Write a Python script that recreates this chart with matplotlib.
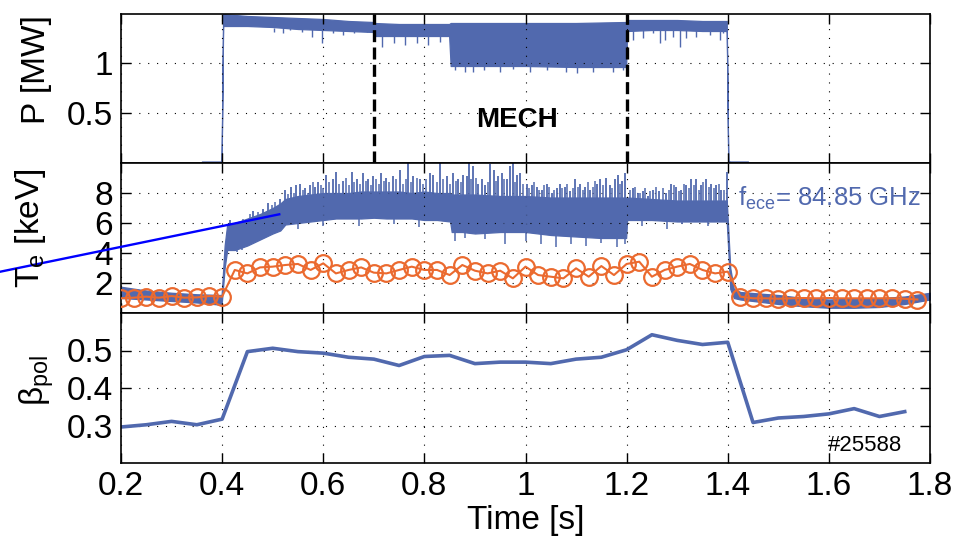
import numpy as np
import matplotlib
matplotlib.use('Agg')
import matplotlib.pyplot as plt

plt.rcParams['font.family'] = ['Liberation Sans', 'DejaVu Sans']
plt.rcParams['mathtext.fontset'] = 'custom'
plt.rcParams['mathtext.rm'] = 'Liberation Sans'
plt.rcParams['mathtext.it'] = 'Liberation Sans:italic'
plt.rcParams['mathtext.bf'] = 'Liberation Sans:bold'
plt.rcParams['mathtext.sf'] = 'Liberation Sans'

BLUE = '#5169ae'
ORANGE = '#eb6a2f'

# ---------------- heating power P [MW] (band envelope + dips) ----------------
p_t  = [0.36, 0.399, 0.402, 0.45, 0.5, 0.55, 0.6, 0.65, 0.699, 0.701, 0.75, 0.8, 0.849,
        0.852, 0.9, 1.0, 1.1, 1.199, 1.201, 1.25, 1.3, 1.35, 1.398, 1.401, 1.405, 1.44]
p_lo = [0.005, 0.005, 1.37, 1.37, 1.36, 1.34, 1.33, 1.32, 1.31, 1.27, 1.27, 1.27, 1.27,
        0.97, 0.97, 0.97, 0.96, 0.96, 1.32, 1.33, 1.33, 1.32, 1.32, 0.0, 0.005, 0.005]
p_hi = [0.015, 0.015, 1.49, 1.47, 1.46, 1.45, 1.44, 1.42, 1.41, 1.40, 1.39, 1.39, 1.39,
        1.40, 1.40, 1.40, 1.40, 1.41, 1.43, 1.43, 1.43, 1.42, 1.42, 0.02, 0.015, 0.015]
p_dip_t = [0.502, 0.521, 0.534, 0.557, 0.578, 0.597, 0.62, 0.64, 0.66, 0.686, 0.716, 0.739,
           0.762, 0.785, 0.808, 0.831, 0.861, 0.88, 0.897, 0.917, 0.95, 0.976, 1.009, 1.042,
           1.081, 1.101, 1.134, 1.173, 1.193, 1.213, 1.233, 1.252, 1.266, 1.276, 1.292,
           1.305, 1.318, 1.338, 1.365, 1.384, 1.391]
p_dip_v = [1.31, 1.30, 1.33, 1.31, 1.26, 1.20, 1.30, 1.28, 1.30, 1.31, 1.16, 1.20,
           1.18, 1.20, 1.18, 1.21, 0.93, 0.91, 0.91, 0.93, 0.91, 0.94, 0.91, 0.93,
           0.91, 0.90, 0.91, 0.91, 0.93, 1.23, 1.25, 1.30, 1.20, 1.23, 1.26,
           1.16, 1.25, 1.26, 1.28, 1.23, 1.30]

# ---------------- ECE Te [keV] (band envelope + spikes + dips) ----------------
te_t  = [0.2, 0.25, 0.3, 0.35, 0.399, 0.405, 0.41, 0.425, 0.45, 0.475, 0.5, 0.515, 0.525,
         0.55, 0.575, 0.6, 0.625, 0.65, 0.675, 0.7, 0.725, 0.75, 0.775, 0.8, 0.825, 0.851,
         0.854, 0.875, 0.9, 0.95, 1.0, 1.05, 1.1, 1.15, 1.199, 1.201, 1.25, 1.3, 1.35,
         1.398, 1.405, 1.412, 1.425, 1.5, 1.55, 1.6, 1.65, 1.7, 1.75, 1.8]
te_lo = [1.0, 0.9, 0.8, 0.7, 0.55, 3.0, 4.2, 4.2, 4.5, 4.9, 5.3, 5.5, 5.9,
         6.0, 6.1, 6.2, 6.3, 6.3, 6.3, 6.35, 6.3, 6.3, 6.3, 6.2, 6.2, 6.1,
         5.4, 5.4, 5.3, 5.4, 5.4, 5.2, 5.1, 5.0, 5.0, 6.2, 6.2, 6.1, 6.1,
         6.1, 1.6, 1.0, 0.9, 0.6, 0.45, 0.35, 0.35, 0.4, 0.6, 0.9]
te_hi = [1.75, 1.5, 1.35, 1.25, 1.2, 4.5, 5.9, 6.0, 6.3, 6.6, 7.0, 7.3, 7.6,
         7.8, 7.9, 8.0, 8.0, 8.0, 8.1, 8.1, 8.1, 8.1, 8.0, 8.1, 8.0, 8.0,
         7.9, 7.9, 7.9, 7.8, 7.8, 7.7, 7.7, 7.7, 7.7, 7.7, 7.6, 7.5, 7.5,
         7.5, 3.0, 1.6, 1.4, 1.2, 1.0, 0.9, 0.95, 1.0, 1.1, 1.35]
te_spk_t = [0.415, 0.422, 0.435, 0.462, 0.481, 0.491, 0.514, 0.524, 0.537, 0.547, 0.554,
            0.564, 0.574, 0.583, 0.59, 0.606, 0.62, 0.626, 0.639, 0.656, 0.666, 0.679,
            0.689, 0.699, 0.715, 0.725, 0.738, 0.751, 0.768, 0.778, 0.791, 0.811, 0.818,
            0.831, 0.844, 0.857, 0.867, 0.877, 0.884, 0.889, 0.897, 0.907, 0.914, 0.92,
            0.93, 0.937, 0.946, 0.953, 0.963, 0.969, 0.975, 0.983, 0.989, 1.002, 1.012,
            1.022, 1.032, 1.042, 1.052, 1.062, 1.068, 1.078, 1.088, 1.098, 1.108, 1.118,
            1.127, 1.141, 1.147, 1.16, 1.167, 1.177, 1.183, 1.19, 1.196, 1.213, 1.222,
            1.232, 1.242, 1.252, 1.265, 1.278, 1.288, 1.298, 1.308, 1.318, 1.328, 1.338,
            1.347, 1.357, 1.367, 1.377, 1.387, 1.399]
te_spk_v = [6.2, 6.0, 6.1, 6.8, 6.9, 7.3, 7.6, 8.2, 8.4, 8.5, 8.6,
            8.3, 8.5, 8.4, 8.75, 9.2, 8.9, 9.4, 8.8, 9.4, 8.9, 9.3,
            8.9, 9.1, 9.3, 9.0, 9.1, 9.5, 10.0, 9.1, 8.9, 9.3, 9.2,
            10.0, 9.1, 9.3, 8.9, 9.2, 9.1, 10.0, 9.8, 8.6, 8.9, 8.5,
            9.9, 9.5, 9.1, 9.3, 8.9, 9.8, 10.0, 9.2, 9.3, 8.6, 8.5,
            8.4, 8.2, 8.6, 8.0, 8.3, 8.6, 8.4, 8.1, 8.9, 8.6, 8.4,
            8.2, 8.6, 8.9, 9.0, 8.5, 8.9, 9.2, 8.8, 9.3, 8.3, 8.0,
            8.1, 7.8, 8.2, 8.1, 8.0, 8.6, 8.4, 8.2, 8.5, 8.9, 8.9,
            8.5, 8.9, 8.6, 8.5, 8.2, 9.4]
# smaller spikes between the big ones
te_spk2_t = [0.428, 0.442, 0.455, 0.47, 0.498, 0.505, 0.53, 0.542, 0.559, 0.569, 0.579,
             0.595, 0.6, 0.612, 0.632, 0.645, 0.651, 0.661, 0.672, 0.684, 0.694, 0.705,
             0.71, 0.72, 0.731, 0.744, 0.757, 0.763, 0.773, 0.785, 0.797, 0.803, 0.824,
             0.837, 0.85, 0.862, 0.872, 0.893, 0.902, 0.925, 0.942, 0.958, 0.979, 0.995,
             1.007, 1.017, 1.027, 1.037, 1.047, 1.057, 1.073, 1.083, 1.093, 1.103, 1.113,
             1.123, 1.133, 1.137, 1.153, 1.172, 1.186, 1.207, 1.217, 1.227, 1.237, 1.247,
             1.258, 1.271, 1.283, 1.293, 1.303, 1.313, 1.323, 1.333, 1.343, 1.352, 1.362,
             1.372, 1.382, 1.392]
te_spk2_v = [5.9, 6.3, 6.6, 6.7, 7.2, 7.4, 7.9, 8.0, 8.2, 8.0, 8.7,
             8.5, 8.3, 8.7, 8.6, 9.0, 8.5, 8.7, 8.6, 8.8, 8.5, 8.9,
             8.6, 8.8, 8.7, 8.9, 8.6, 8.9, 8.7, 9.0, 8.6, 8.9, 8.7,
             8.9, 8.6, 8.8, 8.7, 8.9, 9.0, 8.7, 8.8, 8.9, 8.7, 8.6,
             8.3, 8.7, 8.2, 8.5, 8.4, 8.2, 8.3, 8.6, 8.3, 8.4, 8.2,
             8.7, 8.4, 8.8, 8.5, 8.3, 8.6, 8.2, 8.4, 8.0, 8.3, 8.1,
             8.4, 8.3, 8.2, 8.5, 8.1, 8.6, 8.3, 8.5, 8.2, 8.7, 8.4,
             8.3, 8.6, 8.2]
te_dip_t = [0.43, 0.44, 0.55, 0.6, 0.67, 0.74, 0.79, 0.86, 0.88, 0.92, 0.96, 1.0, 1.03,
            1.06, 1.09, 1.12, 1.15, 1.18, 1.196, 1.23, 1.28, 1.31, 1.36]
te_dip_v = [4.1, 4.2, 5.6, 5.8, 5.8, 5.9, 5.7, 4.8, 5.0, 4.9, 4.6, 4.8, 4.6,
            4.4, 4.6, 4.5, 4.7, 4.4, 4.6, 5.8, 5.6, 5.9, 5.8]

# ---------------- Thomson-like Te points (orange circles) ----------------
ts_t = [0.2, 0.225, 0.25, 0.275, 0.3, 0.325, 0.35, 0.375, 0.4, 0.425, 0.45, 0.475,
        0.5, 0.525, 0.55, 0.575, 0.6, 0.625, 0.65, 0.675, 0.7, 0.725, 0.75, 0.775,
        0.8, 0.825, 0.85, 0.875, 0.9, 0.925, 0.95, 0.975, 1.0, 1.025, 1.05, 1.075,
        1.1, 1.125, 1.15, 1.175, 1.2, 1.225, 1.25, 1.275, 1.3, 1.325, 1.35, 1.375,
        1.4, 1.425, 1.45, 1.475, 1.5, 1.525, 1.55, 1.575, 1.6, 1.625, 1.65, 1.675,
        1.7, 1.725, 1.75, 1.775]
ts_te = [0.98, 1.02, 1.09, 1.02, 1.13, 1.02, 1.04, 1.13, 1.09, 2.87, 2.64, 3.04,
         3.09, 3.20, 3.27, 2.87, 3.31, 2.64, 2.87, 3.04, 2.69, 2.64, 2.87, 3.09,
         2.87, 2.87, 2.53, 3.20, 2.82, 2.64, 2.82, 2.31, 3.09, 2.53, 2.42, 2.31,
         2.98, 2.42, 3.13, 2.53, 3.27, 3.42, 2.42, 2.87, 3.09, 3.27, 2.87, 2.64,
         2.76, 1.09, 0.98, 0.98, 0.95, 0.98, 1.00, 0.98, 1.00, 0.98, 0.98, 0.98,
         0.98, 0.98, 0.95, 0.90]

# ---------------- beta_pol ----------------
beta_t = [0.2, 0.25, 0.3, 0.35, 0.4, 0.45, 0.5, 0.55, 0.6, 0.65, 0.7, 0.75, 0.8, 0.85,
          0.9, 0.95, 1.0, 1.05, 1.1, 1.15, 1.2, 1.25, 1.3, 1.35, 1.4, 1.45, 1.5, 1.55,
          1.6, 1.65, 1.7, 1.75]
beta_v = [0.296, 0.302, 0.311, 0.302, 0.317, 0.497, 0.506, 0.497, 0.493, 0.482, 0.477,
          0.460, 0.484, 0.487, 0.465, 0.469, 0.469, 0.465, 0.477, 0.482, 0.502, 0.542,
          0.527, 0.516, 0.522, 0.308, 0.320, 0.324, 0.331, 0.345, 0.324, 0.337]

# annotation line (blue) and MECH window
arrow_t = [-0.0393, 0.513]
arrow_te = [2.75, 6.58]
mech_t = [0.7, 1.2]

xticks = [0.2, 0.4, 0.6, 0.8, 1.0, 1.2, 1.4, 1.6, 1.8]
xticklabels = ['0.2', '0.4', '0.6', '0.8', '1', '1.2', '1.4', '1.6', '1.8']

W, H = 961, 546
fig = plt.figure(figsize=(W / 100, H / 100), dpi=100)
L = 121 / W
Wd = (930 - 121) / W
ax1 = fig.add_axes([L, 1 - 163 / H, Wd, 149 / H])
ax2 = fig.add_axes([L, 1 - 313 / H, Wd, 150 / H])
ax3 = fig.add_axes([L, 1 - 463 / H, Wd, 150 / H])

FS = 24
for ax in (ax1, ax2, ax3):
    ax.set_xlim(0.2, 1.8)
    ax.set_xticks(xticks)
    ax.grid(True, color='black', linestyle=(0, (1, 7)), linewidth=0.8)
    ax.tick_params(direction='in', length=7, width=1.0, top=True, right=True,
                   labelsize=FS, pad=6)
    for s in ax.spines.values():
        s.set_linewidth(1.2)
ax1.set_xticklabels([])
ax2.set_xticklabels([])
ax3.set_xticklabels(xticklabels)

# --- panel 1: P
ax1.fill_between(p_t, p_lo, p_hi, color=BLUE, linewidth=0.9, edgecolor=BLUE)
ax1.vlines(p_dip_t, [1.35] * len(p_dip_t), p_dip_v, color=BLUE, linewidth=1.0)
ax1.set_ylim(0, 1.49)
ax1.set_yticks([0.5, 1.0])
ax1.set_yticklabels(['0.5', '1'])
for tm in mech_t:
    ax1.axvline(tm, color='black', linewidth=2.4, linestyle=(0, (3.6, 1.6)), zorder=5)
ax1.text(0.983, 0.43, 'MECH', fontsize=20, fontweight='bold', ha='center', va='center')

# --- panel 2: Te
te_mid = (np.array(te_lo) + np.array(te_hi)) / 2
base1 = np.interp(te_spk_t, te_t, te_mid)
base2 = np.interp(te_spk2_t, te_t, te_mid)
base3 = np.interp(te_dip_t, te_t, te_mid)
ax2.fill_between(te_t, te_lo, te_hi, color=BLUE, linewidth=0.9, edgecolor=BLUE)
ax2.vlines(te_spk_t, base1, te_spk_v, color=BLUE, linewidth=1.3)
ax2.vlines(te_spk2_t, base2, te_spk2_v, color=BLUE, linewidth=1.1)
ax2.vlines(te_dip_t, base3, te_dip_v, color=BLUE, linewidth=1.1)
ax2.plot(ts_t, ts_te, '-o', color=ORANGE, mfc='none', mec=ORANGE, ms=12, mew=1.6,
         linewidth=1.5, zorder=4)
ax2.plot(arrow_t, arrow_te, color='#0000ff', linewidth=1.7, clip_on=False, zorder=6)
ax2.set_ylim(0, 10)
ax2.set_yticks([2, 4, 6, 8])
ax2.text(1.421, 7.15, r'f$_{\rm ece}$= 84.85 GHz', color=BLUE, fontsize=18.5,
         ha='left', va='baseline')

# --- panel 3: beta
ax3.plot(beta_t, beta_v, color=BLUE, linewidth=2.6)
ax3.set_ylim(0.2, 0.6)
ax3.set_yticks([0.3, 0.4, 0.5])
ax3.set_yticklabels(['0.3', '0.4', '0.5'])
ax3.text(1.598, 0.231, '#25588', fontsize=16, ha='left', va='baseline')
ax3.set_xlabel('Time [s]', fontsize=FS, labelpad=2)

fig.text(36 / W, 1 - 70 / H, 'P [MW]', rotation=90, fontsize=FS, ha='center', va='center')
fig.text(31 / W, 1 - 228 / H, r'T$_{\rm e}$ [keV]', rotation=90, fontsize=FS,
         ha='center', va='center')
fig.text(37 / W, 1 - 380 / H, r'β$_{\rm pol}$', rotation=90, fontsize=FS,
         ha='center', va='center')

fig.savefig('out.png', dpi=100)
